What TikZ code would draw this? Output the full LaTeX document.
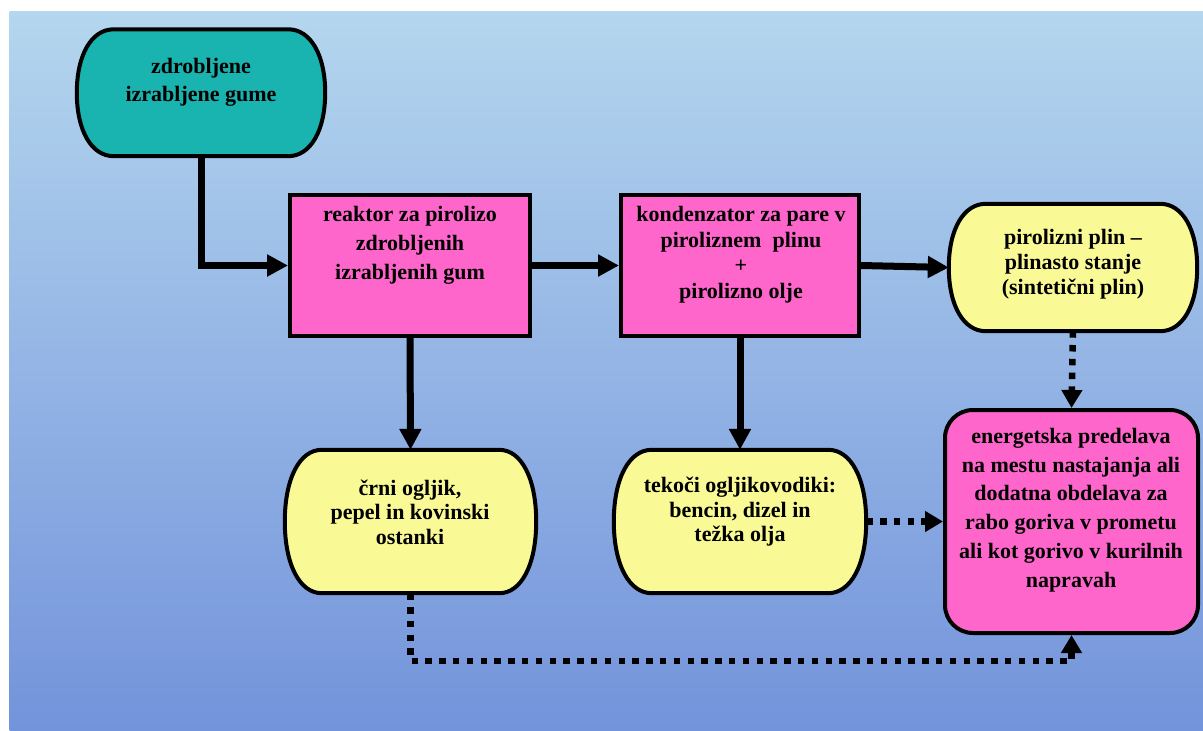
\documentclass[tikz,border=0pt]{standalone}
\usepackage{fontspec}
\setmainfont{Liberation Serif}
\usetikzlibrary{
  calc,
  positioning,
  arrows.meta}

\definecolor{bgtop}{HTML}{B4D6EE}
\definecolor{bgbot}{HTML}{7393DB}
\definecolor{gumeteal}{HTML}{19B3B0}
\definecolor{stagepink}{HTML}{FF66CC}
\definecolor{prodyellow}{HTML}{F9F995}

% capsule outline round an empty node: node, bulge, fill
\newcommand{\drawcapsule}[3]{%
  \draw[outline,fill=#3]
    ($(#1.north west)+(#2,0)$) -- ($(#1.north east)+(-#2,0)$)
    .. controls ($(#1.north east)+(-0.4*#2,0)$) and ($(#1.east)!0.6!(#1.north east)$) .. (#1.east)
    .. controls ($(#1.east)!0.6!(#1.south east)$) and ($(#1.south east)+(-0.4*#2,0)$) .. ($(#1.south east)+(-#2,0)$)
    -- ($(#1.south west)+(#2,0)$)
    .. controls ($(#1.south west)+(0.4*#2,0)$) and ($(#1.west)!0.6!(#1.south west)$) .. (#1.west)
    .. controls ($(#1.west)!0.6!(#1.north west)$) and ($(#1.north west)+(0.4*#2,0)$) .. ($(#1.north west)+(#2,0)$)
    -- cycle;
}

\begin{document}
\begin{tikzpicture}[
  x=1pt,y=-1pt,
  every node/.style={inner sep=0pt},
  boxsize/.style 2 args={minimum width=#1,minimum height=#2},
  outline/.style={draw=black,line width=4pt},
  txt/.style={font=\bfseries\fontsize{22pt}{#1pt}\selectfont,align=center},
  flow/.style={line width=7pt,-{Triangle[length=21pt,width=21pt]}},
  dotflow/.style={line width=6.5pt,dash pattern=on 6.5pt off 7.3pt,-{Triangle[length=18pt,width=20pt]}}
]%
  \useasboundingbox (0,0) rectangle (1203,731);
  \fill[top color=bgtop,bottom color=bgbot] (9.5,11) rectangle (1203,731);

  % shapes
  \node[boxsize={248pt}{126.5pt}] (gume) at (201,92.75) {};
  \node[boxsize={240pt}{141pt},outline,fill=stagepink] (reaktor) at (410,265.5) {};
  \node[boxsize={238pt}{141pt},outline,fill=stagepink] (kond) at (740,265.5) {};
  \node[boxsize={248pt}{127pt}] (plin) at (1073,267.5) {};
  \node[boxsize={251pt}{143pt}] (crni) at (410.5,521.5) {};
  \node[boxsize={252pt}{143pt}] (tekoci) at (740,521.5) {};
  \node[boxsize={253pt}{223pt},outline,fill=stagepink,rounded corners=28pt] (energ) at (1071.5,521.5) {};

  \drawcapsule{gume}{37}{gumeteal}
  \drawcapsule{plin}{37}{prodyellow}
  \drawcapsule{crni}{37}{prodyellow}
  \drawcapsule{tekoci}{38}{prodyellow}

  % texts
  \node[txt=28] (gume-t) at (201,82) {zdrobljene\\izrabljene gume};
  \node[txt=29] (reaktor-t) at (410,245.5) {reaktor za pirolizo\\zdrobljenih\\izrabljenih gum};
  \node[txt=25.5] (kond-t) at (741,254.5) {kondenzator za pare v\\piroliznem\ \ plinu\\+\\pirolizno olje};
  \node[txt=25] (plin-t) at (1073,264) {pirolizni plin --\\plinasto stanje\\(sintetični plin)};
  \node[txt=24.5] (crni-t) at (410,512) {črni ogljik,\\pepel in kovinski\\ostanki};
  \node[txt=24.5] (tekoci-t) at (740,512) {tekoči ogljikovodiki:\\bencin, dizel in\\težka olja};
  \node[txt=28.8] (energ-t) at (1071,510) {energetska predelava\\na mestu nastajanja ali\\dodatna obdelava za\\rabo goriva v prometu\\ali kot gorivo v kurilnih\\napravah};

  % connectors
  \draw[flow] (gume.south) |- (reaktor.west);
  \draw[flow] (reaktor.east) -- (kond.west);
  \draw[flow] (kond.east) -- (plin.west);
  \draw[flow] (reaktor.south) -- (crni.north);
  \draw[flow] (kond.south) -- (tekoci.north);

  \draw[dotflow] (plin.south) -- (energ.north);
  \draw[dotflow] (tekoci.east) -- (energ.west);
  \draw[dotflow] (crni.south) -- ++(0,68) -| (energ.south);

\end{tikzpicture}
\end{document}
